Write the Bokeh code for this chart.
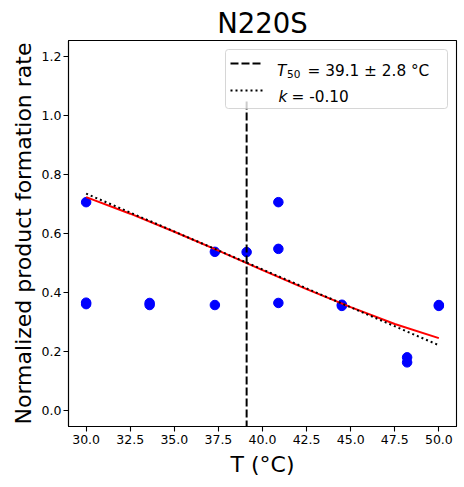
from bokeh.plotting import figure
from bokeh.models import (Range1d, FixedTicker, PrintfTickFormatter, Label,
                          BoxAnnotation, Arrow)
from bokeh.embed import file_html
from bokeh.resources import INLINE

# ---- data ----
temps = [30.0, 30.0, 30.0, 33.6, 33.6, 37.3, 37.3, 39.1, 40.9, 40.9, 40.9,
         44.5, 44.5, 48.2, 48.2, 50.0, 50.0]
rates = [0.706, 0.366, 0.361, 0.365, 0.358, 0.538, 0.358, 0.537, 0.706, 0.548,
         0.365, 0.359, 0.355, 0.181, 0.164, 0.358, 0.355]

fit_temps = [30.0, 32.5, 35.0, 37.5, 40.0, 42.5, 45.0, 47.5, 50.0]
fit_rates = [0.723, 0.667, 0.606, 0.542, 0.476, 0.412, 0.351, 0.294, 0.246]

tangent_temps = [30.0, 50.0]
tangent_rates = [0.735, 0.222]

t50 = 39.1
t50_err = 2.8
k_val = -0.10
t50_span = [-0.06, 1.05]

x_ticks = [30.0, 32.5, 35.0, 37.5, 40.0, 42.5, 45.0, 47.5, 50.0]
y_ticks = [0.0, 0.2, 0.4, 0.6, 0.8, 1.0, 1.2]

title_text = "N220S"
xlabel_text = "T (°C)"
ylabel_text = "Normalized product formation rate"

FONT = "DejaVu Sans"

p = figure(width=464, height=487, output_backend="svg", toolbar_location=None,
           x_range=Range1d(29.0, 51.0), y_range=Range1d(-0.053, 1.253),
           min_border_left=68, min_border_right=8, min_border_top=40,
           min_border_bottom=61)
p.background_fill_color = "white"
p.border_fill_color = "white"
p.xgrid.visible = False
p.ygrid.visible = False
p.outline_line_color = "black"
p.outline_line_alpha = 1.0
p.outline_line_width = 1.1

p.title.text = title_text
p.title.text_font = FONT
p.title.text_font_size = "27.5px"
p.title.text_font_style = "normal"
p.title.text_color = "black"
p.title.align = "center"
p.title.standoff = 3

for ax in (p.xaxis[0], p.yaxis[0]):
    ax.axis_line_color = "black"
    ax.axis_line_width = 1.1
    ax.major_tick_out = 5
    ax.major_tick_in = 0
    ax.minor_tick_out = 0
    ax.minor_tick_in = 0
    ax.major_tick_line_color = "black"
    ax.major_tick_line_width = 1.1
    ax.major_label_text_font = FONT
    ax.major_label_text_font_size = "12.5px"
    ax.major_label_text_color = "black"
    ax.formatter = PrintfTickFormatter(format="%.1f")
    ax.axis_label_text_font = FONT
    ax.axis_label_text_font_size = "22px"
    ax.axis_label_text_font_style = "normal"
    ax.axis_label_text_color = "black"

p.xaxis.ticker = FixedTicker(ticks=x_ticks)
p.yaxis.ticker = FixedTicker(ticks=y_ticks)
p.xaxis.major_label_standoff = 3
p.yaxis.major_label_standoff = 2
p.xaxis.axis_label = xlabel_text
p.yaxis.axis_label = ylabel_text
p.xaxis.axis_label_standoff = 5
p.yaxis.axis_label_standoff = 3

# data marks
p.scatter(temps, rates, size=9.5, color="blue", line_color="blue")
p.line(fit_temps, fit_rates, color="red", line_width=2)
p.line(tangent_temps, tangent_rates, color="black", line_width=2, line_dash="2 3")
p.line([t50, t50], t50_span, color="black", line_width=2, line_dash="8 3")

# legend (screen units relative to the plot frame)
p.add_layout(BoxAnnotation(left=157, right=379, top=377, bottom=318,
                           left_units="screen", right_units="screen",
                           top_units="screen", bottom_units="screen",
                           fill_color="white", fill_alpha=0.8,
                           line_color="#cccccc", line_alpha=0.8, line_width=1,
                           border_radius=3))
p.add_layout(Arrow(x_start=162, y_start=363, x_end=195, y_end=363,
                   start_units="screen", end_units="screen", start=None, end=None,
                   line_color="black", line_width=2, line_dash="8 3"))
p.add_layout(Arrow(x_start=162, y_start=336, x_end=195, y_end=336,
                   start_units="screen", end_units="screen", start=None, end=None,
                   line_color="black", line_width=2, line_dash="2 3"))
p.add_layout(Label(x=208.5, y=356, x_units="screen", y_units="screen", text="T",
                   text_font=FONT, text_font_size="15.3px", text_font_style="italic",
                   text_baseline="alphabetic", text_color="black"))
p.add_layout(Label(x=218.5, y=352.5, x_units="screen", y_units="screen", text="50",
                   text_font=FONT, text_font_size="10.5px",
                   text_baseline="alphabetic", text_color="black"))
p.add_layout(Label(x=239, y=356, x_units="screen", y_units="screen",
                   text=f"= {t50:.1f} ± {t50_err:.1f} °C",
                   text_font=FONT, text_font_size="15.3px",
                   text_baseline="alphabetic", text_color="black"))
p.add_layout(Label(x=210, y=330, x_units="screen", y_units="screen", text="k",
                   text_font=FONT, text_font_size="15.3px", text_font_style="italic",
                   text_baseline="alphabetic", text_color="black"))
p.add_layout(Label(x=223, y=330, x_units="screen", y_units="screen",
                   text=f"= {k_val:.2f}",
                   text_font=FONT, text_font_size="15.3px",
                   text_baseline="alphabetic", text_color="black"))

open("out.html", "w").write(file_html(p, INLINE))
